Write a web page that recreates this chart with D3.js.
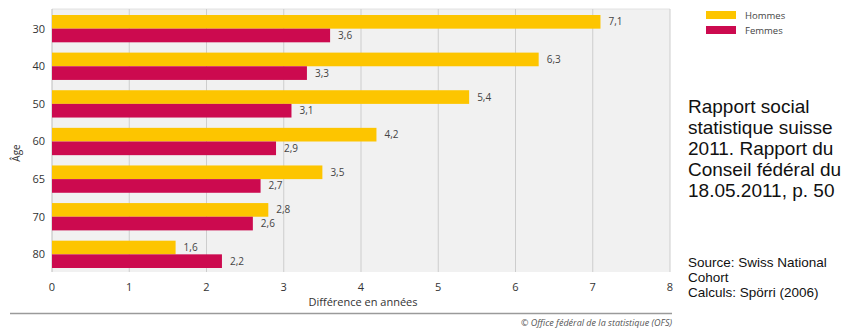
<!DOCTYPE html>
<html>
<head>
<meta charset="utf-8">
<script src="https://cdn.jsdelivr.net/npm/d3@7"></script>
<style>
  html, body { margin: 0; padding: 0; background: #fff; }
  svg { display: block; }
</style>
</head>
<body>
<svg id="chart" width="845" height="330"></svg>
<script>
// Age groups and life-expectancy differences (years)
const ages = ["30", "40", "50", "60", "65", "70", "80"];
const hommes = [7.1, 6.3, 5.4, 4.2, 3.5, 2.8, 1.6];
const femmes = [3.6, 3.3, 3.1, 2.9, 2.7, 2.6, 2.2];
const seriesNames = ["Hommes", "Femmes"];
const xTicks = [0, 1, 2, 3, 4, 5, 6, 7, 8];
const noteLines = ["Rapport social", "statistique suisse", "2011. Rapport du", "Conseil fédéral du", "18.05.2011, p. 50"];
const sourceLines = ["Source: Swiss National", "Cohort", "Calculs: Spörri (2006)"];

const colors = { Hommes: "#fdc500", Femmes: "#cc0a4f" };
const font = "'Open Sans', 'DejaVu Sans', sans-serif";

const svg = d3.select("#chart");
const plot = { left: 52, right: 670, top: 9, bottom: 272 };

const x = d3.scaleLinear().domain([0, 8]).range([plot.left, plot.right]);
const y = d3.scaleBand().domain(ages).range([15, 268]).paddingInner(0.274).paddingOuter(0);
const ySub = d3.scaleBand().domain(seriesNames).range([0, y.bandwidth()]);

// plot background
svg.append("rect")
  .attr("x", plot.left).attr("y", plot.top)
  .attr("width", plot.right - plot.left).attr("height", plot.bottom - plot.top)
  .attr("fill", "#f1f1f1");

// top border
svg.append("line")
  .attr("x1", plot.left).attr("x2", plot.right)
  .attr("y1", plot.top).attr("y2", plot.top)
  .attr("stroke", "#e2e2e2").attr("stroke-width", 1);

// vertical grid lines
svg.append("g").selectAll("line").data(xTicks).join("line")
  .attr("x1", d => x(d)).attr("x2", d => x(d))
  .attr("y1", plot.top).attr("y2", plot.bottom)
  .attr("stroke", d => d === 0 ? "#bdbdbd" : "#cdcdcd")
  .attr("stroke-width", 1);

// bars
const rows = ages.map((a, i) => ({ age: a, Hommes: hommes[i], Femmes: femmes[i] }));
const groups = svg.append("g").selectAll("g").data(rows).join("g")
  .attr("transform", d => `translate(0,${y(d.age)})`);

groups.selectAll("rect").data(d => seriesNames.map(s => ({ s, v: d[s] }))).join("rect")
  .attr("x", x(0))
  .attr("y", d => ySub(d.s))
  .attr("width", d => x(d.v) - x(0))
  .attr("height", ySub.bandwidth())
  .attr("fill", d => colors[d.s]);

// value labels
groups.selectAll("text").data(d => seriesNames.map(s => ({ s, v: d[s] }))).join("text")
  .attr("x", d => x(d.v) + 8)
  .attr("y", d => ySub(d.s) + ySub.bandwidth() / 2)
  .attr("dy", "0.35em")
  .attr("font-family", font)
  .attr("font-size", 10)
  .attr("fill", "#444")
  .text(d => d3.format(".1f")(d.v).replace(".", ","));

// y axis labels
svg.append("g").selectAll("text").data(ages).join("text")
  .attr("x", 45)
  .attr("y", d => y(d) + y.bandwidth() / 2)
  .attr("dy", "0.35em")
  .attr("text-anchor", "end")
  .attr("font-family", font)
  .attr("font-size", 11)
  .attr("fill", "#333")
  .text(d => d);

svg.append("text")
  .attr("transform", "translate(20,153) rotate(-90)")
  .attr("text-anchor", "middle")
  .attr("font-family", font)
  .attr("font-size", 10)
  .attr("fill", "#333")
  .text("Âge");

// x axis labels
svg.append("g").selectAll("text").data(xTicks).join("text")
  .attr("x", d => x(d))
  .attr("y", 291)
  .attr("text-anchor", "middle")
  .attr("font-family", font)
  .attr("font-size", 11)
  .attr("fill", "#333")
  .text(d => d);

svg.append("text")
  .attr("x", 363).attr("y", 306)
  .attr("text-anchor", "middle")
  .attr("font-family", font)
  .attr("font-size", 11)
  .attr("fill", "#333")
  .text("Différence en années");

// bottom rule and copyright
svg.append("line")
  .attr("x1", 10).attr("x2", plot.right + 2)
  .attr("y1", 313.5).attr("y2", 313.5)
  .attr("stroke", "#9a9a9a").attr("stroke-width", 1.5);

svg.append("text")
  .attr("x", plot.right + 2).attr("y", 326)
  .attr("text-anchor", "end")
  .attr("font-family", font)
  .attr("font-style", "italic")
  .attr("font-size", 9)
  .attr("fill", "#555")
  .text("© Office fédéral de la statistique (OFS)");

// legend
const legend = svg.append("g").selectAll("g").data(seriesNames).join("g")
  .attr("transform", (d, i) => `translate(706,${11 + i * 15})`);
legend.append("rect").attr("width", 30).attr("height", 8).attr("fill", d => colors[d]);
legend.append("text")
  .attr("x", 39).attr("y", 4.5).attr("dy", "0.35em")
  .attr("font-family", font).attr("font-size", 9.5).attr("fill", "#444")
  .text(d => d);

// note text
svg.append("g").selectAll("text").data(noteLines).join("text")
  .attr("x", 688).attr("y", (d, i) => 113 + i * 21)
  .attr("font-family", "'Liberation Sans', Arial, sans-serif")
  .attr("font-size", 19)
  .attr("fill", "#111")
  .text(d => d);

svg.append("g").selectAll("text").data(sourceLines).join("text")
  .attr("x", 688).attr("y", (d, i) => 267 + i * 15)
  .attr("font-family", "'Liberation Sans', Arial, sans-serif")
  .attr("font-size", 13.5)
  .attr("fill", "#111")
  .text(d => d);
</script>
</body>
</html>
